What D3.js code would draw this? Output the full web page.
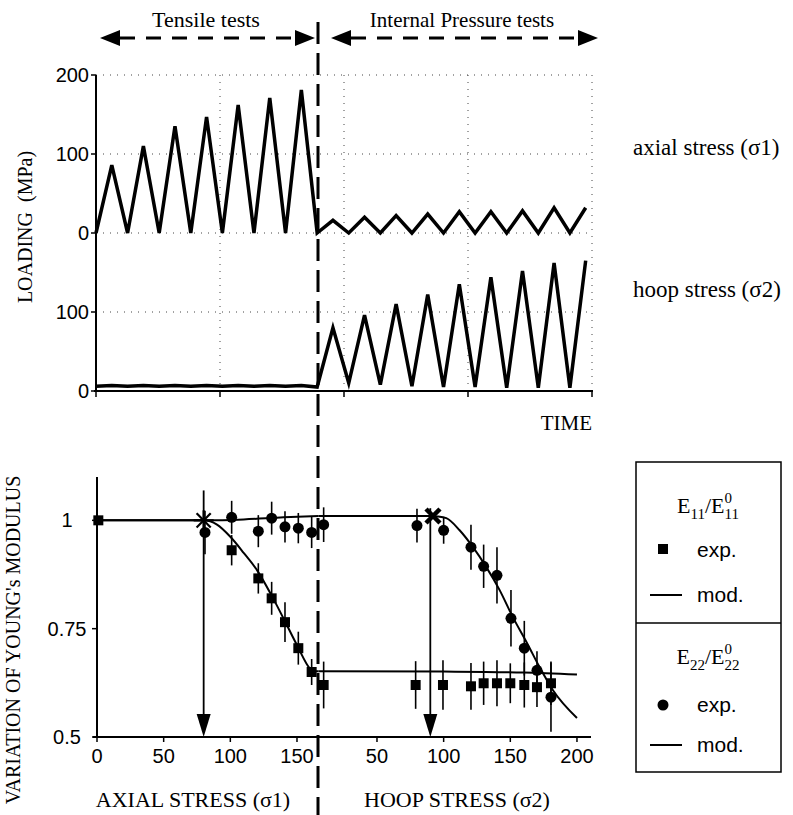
<!DOCTYPE html>
<html><head><meta charset="utf-8">
<script src="https://cdn.jsdelivr.net/npm/d3@7"></script>
<style>body{margin:0;background:#fff} svg{display:block}</style>
</head><body>
<svg id="c" width="793" height="815"></svg>
<script>
// ---------------- DATA ----------------
// Top chart: loading history (time in half-cycle units)
const cycleTime = [0,1,2,3,4,5,6,7,8,9,10,11,12,13,14,15,16,17,18,19,20,21,22,23,24,25,26,27,28,29,30,31];
const axialLoad = [0,86,0,110,0,135,0,147,0,162,0,171,0,181,0,16,0,20,0,22,0,24,0,27,0,27,0,28,0,32,0,32];
const hoopLoad  = [6,7,6,7,6,7,6,7,6,7,6,7,6,7,5,80,10,96,8,110,6,122,5,135,5,144,4,152,4,162,4,165];
const timeDomain = [0, 31.4];
const timeTicks = [0, 7.85, 15.7, 23.55, 31.4];
const loadTickPos = [0, 100, 200, 300, 400];
const loadTickLabels = ["0", "100", "0", "100", "200"];

// Bottom chart: [stress, E/E0, error]
const e11ExpAxial = [[1,1.0,0],[101,0.931,0.035],[121,0.866,0.035],[131,0.82,0.038],[141,0.765,0.046],[151,0.705,0.038],[161,0.65,0.03]];
const e11ExpHoop  = [[10,0.62,0.054],[79,0.62,0.055],[99.5,0.62,0.057],[120.5,0.617,0.054],[130,0.624,0.05],[140,0.624,0.053],[150,0.624,0.046],[160.5,0.62,0.052],[170,0.615,0.046],[180.5,0.624,0.05]];
const e22ExpAxial = [[81,0.972,0.05],[101,1.007,0.038],[121,0.975,0.037],[131,1.005,0.038],[141,0.985,0.036],[151,0.982,0.035],[161,0.972,0.036]];
const e22ExpHoop  = [[10,0.99,0.04],[80,0.988,0.039],[100,0.977,0.031],[120.5,0.938,0.052],[130,0.894,0.05],[140,0.873,0.065],[150.5,0.774,0.065],[160.5,0.705,0.063],[170,0.654,0.044],[180.5,0.592,0.08]];
// model curves: [stress, E/E0]
const e11ModAxial = [[0,1],[80,1],[90,0.99],[100,0.962],[110,0.925],[120,0.885],[130,0.832],[140,0.773],[150,0.712],[160,0.657],[162,0.652],[166,0.652]];
const e11ModHoop  = [[6,0.652],[100,0.651],[160,0.649],[200,0.644]];
const e22ModAxial = [[0,1],[80,1],[110,1.002],[140,1.007],[166,1.01]];
const e22ModHoop  = [[6,1.01],[90,1.01],[95,1.009],[102,1.005],[112,0.977],[122,0.938],[132,0.892],[142,0.839],[152,0.776],[162.5,0.717],[172,0.661],[182,0.608],[200,0.544]];
const axialTicks = [0, 50, 100, 150];
const hoopTicks = [50, 100, 150, 200];
const modTicks = [1, 0.75, 0.5];
const modTickLabels = ["1", "0.75", "0.5"];
const hoopOffset = 160;          // hoop stress 0 sits at axial stress 160 on the shared axis
const onsetAxial = {s: 80, v: 1.0};    // asterisk
const onsetHoop = {s: 92, v: 1.01};    // cross
const arrowAxial = {s: 80, from: 1.069, to: 0.5};
const arrowHoop  = {s: 90, from: 1.028, to: 0.5};

// ---------------- DRAW ----------------
const SERIF = "'Liberation Serif','Times New Roman',serif";
const SANS = "'Liberation Sans',Arial,sans-serif";
const svg = d3.select("#c");

// header
svg.append("text").attr("x",206).attr("y",27).attr("text-anchor","middle")
  .attr("font-family",SERIF).attr("font-size",22).text("Tensile tests");
svg.append("text").attr("x",462).attr("y",27).attr("text-anchor","middle")
  .attr("font-family",SERIF).attr("font-size",21).text("Internal Pressure tests");
function dblArrow(x1, x2, y) {
  const hl = 20, hw = 8;
  svg.append("line").attr("x1",x1+hl).attr("x2",x2-hl).attr("y1",y).attr("y2",y)
    .attr("stroke","#000").attr("stroke-width",3).attr("stroke-dasharray","15,11");
  svg.append("path").attr("d",`M${x1},${y}L${x1+hl},${y-hw}L${x1+hl},${y+hw}Z`).attr("fill","#000");
  svg.append("path").attr("d",`M${x2},${y}L${x2-hl},${y-hw}L${x2-hl},${y+hw}Z`).attr("fill","#000");
}
dblArrow(100, 315, 38);
dblArrow(331, 598, 38);

// ---- top chart
const xT = d3.scaleLinear().domain(timeDomain).range([96, 592]);
const yT = d3.scaleLinear().domain([0, 400]).range([391, 75]);
const topG = svg.append("g");
topG.selectAll(".hg").data(loadTickPos.filter(d => d > 0)).join("line")
  .attr("x1",96).attr("x2",592).attr("y1",d=>yT(d)).attr("y2",d=>yT(d))
  .attr("stroke","#444").attr("stroke-width",1).attr("stroke-dasharray","1,6");
topG.selectAll(".vg").data(timeTicks.filter(d => d > 0)).join("line")
  .attr("x1",d=>xT(d)).attr("x2",d=>xT(d)).attr("y1",75).attr("y2",391)
  .attr("stroke","#444").attr("stroke-width",1).attr("stroke-dasharray","1,6");
topG.append("line").attr("x1",96).attr("x2",96).attr("y1",75).attr("y2",392).attr("stroke","#000").attr("stroke-width",2);
topG.append("line").attr("x1",94).attr("x2",593).attr("y1",391).attr("y2",391).attr("stroke","#000").attr("stroke-width",2);
topG.selectAll(".yt").data(loadTickPos).join("line")
  .attr("x1",91).attr("x2",96).attr("y1",d=>yT(d)).attr("y2",d=>yT(d)).attr("stroke","#000").attr("stroke-width",1.5);
topG.selectAll(".xt").data(timeTicks).join("line")
  .attr("x1",d=>xT(d)).attr("x2",d=>xT(d)).attr("y1",391).attr("y2",397).attr("stroke","#000").attr("stroke-width",1.5);
topG.selectAll(".yl").data(loadTickPos).join("text")
  .attr("x",89).attr("y",d=>yT(d)+7).attr("text-anchor","end")
  .attr("font-family",SANS).attr("font-size",20).text((d,i)=>loadTickLabels[i]);
topG.append("text").attr("transform","translate(32,227) rotate(-90)").attr("text-anchor","middle")
  .attr("font-family",SERIF).attr("font-size",20).attr("xml:space","preserve").text("LOADING  (MPa)");
topG.append("text").attr("x",592).attr("y",430).attr("text-anchor","end")
  .attr("font-family",SERIF).attr("font-size",21).text("TIME");
topG.append("text").attr("x",633).attr("y",155)
  .attr("font-family",SERIF).attr("font-size",23).text("axial stress (σ1)");
topG.append("text").attr("x",633).attr("y",297)
  .attr("font-family",SERIF).attr("font-size",23).text("hoop stress (σ2)");
const axialLine = d3.line().x((d,i)=>xT(cycleTime[i])).y(d=>yT(200+d));
const hoopLine = d3.line().x((d,i)=>xT(cycleTime[i])).y(d=>yT(d));
topG.append("path").attr("d",axialLine(axialLoad)).attr("fill","none").attr("stroke","#000").attr("stroke-width",3.5);
topG.append("path").attr("d",hoopLine(hoopLoad)).attr("fill","none").attr("stroke","#000").attr("stroke-width",3.5);

// ---- bottom chart
const xB = d3.scaleLinear().domain([0, 370]).range([97, 590.3]);
const yB = d3.scaleLinear().domain([0.5, 1.1]).range([737, 477]);
const bot = svg.append("g");
bot.append("line").attr("x1",97).attr("x2",97).attr("y1",477).attr("y2",738).attr("stroke","#000").attr("stroke-width",2);
bot.append("line").attr("x1",93).attr("x2",591).attr("y1",737).attr("y2",737).attr("stroke","#000").attr("stroke-width",2);
bot.selectAll(".yt").data(modTicks).join("line")
  .attr("x1",92).attr("x2",97).attr("y1",d=>yB(d)).attr("y2",d=>yB(d)).attr("stroke","#000").attr("stroke-width",1.5);
bot.selectAll(".yl").data(modTicks).join("text")
  .attr("x",67).attr("y",d=>yB(d)+7).attr("text-anchor","middle")
  .attr("font-family",SANS).attr("font-size",20).text((d,i)=>modTickLabels[i]);
const xTickPos = axialTicks.concat(hoopTicks.map(h => h + hoopOffset));
const xTickLab = axialTicks.concat(hoopTicks);
bot.selectAll(".xt").data(xTickPos).join("line")
  .attr("x1",d=>xB(d)).attr("x2",d=>xB(d)).attr("y1",737).attr("y2",742).attr("stroke","#000").attr("stroke-width",1.5);
bot.selectAll(".xl").data(xTickPos).join("text")
  .attr("x",d=>xB(d)).attr("y",763).attr("text-anchor","middle")
  .attr("font-family",SANS).attr("font-size",20).text((d,i)=>xTickLab[i]);
bot.append("text").attr("x",193).attr("y",807).attr("text-anchor","middle")
  .attr("font-family",SERIF).attr("font-size",22).text("AXIAL STRESS (σ1)");
bot.append("text").attr("x",457).attr("y",807).attr("text-anchor","middle")
  .attr("font-family",SERIF).attr("font-size",22).text("HOOP STRESS (σ2)");
bot.append("text").attr("transform","translate(20,640) rotate(-90)").attr("text-anchor","middle")
  .attr("font-family",SERIF).attr("font-size",20).text("VARIATION OF YOUNG's MODULUS");

const toP = (arr, hoop) => arr.map(d => [hoop ? d[0] + hoopOffset : d[0], d[1], d[2]]);
const e11Exp = toP(e11ExpAxial,false).concat(toP(e11ExpHoop,true));
const e22Exp = toP(e22ExpAxial,false).concat(toP(e22ExpHoop,true));
const mline = d3.line().x(d=>xB(d[0])).y(d=>yB(d[1])).curve(d3.curveMonotoneX);
[toP(e11ModAxial,false), toP(e11ModHoop,true), toP(e22ModAxial,false), toP(e22ModHoop,true)].forEach(a => {
  bot.append("path").attr("d", mline(a)).attr("fill","none").attr("stroke","#000").attr("stroke-width",2);
});
bot.selectAll(".eb").data(e11Exp.concat(e22Exp).filter(d=>d[2]>0)).join("line")
  .attr("x1",d=>xB(d[0])).attr("x2",d=>xB(d[0])).attr("y1",d=>yB(d[1]+d[2])).attr("y2",d=>yB(d[1]-d[2]))
  .attr("stroke","#000").attr("stroke-width",1.6);
bot.selectAll(".sq").data(e11Exp).join("rect")
  .attr("x",d=>xB(d[0])-5).attr("y",d=>yB(d[1])-5).attr("width",10).attr("height",10).attr("fill","#000");
bot.selectAll(".ci").data(e22Exp).join("circle")
  .attr("cx",d=>xB(d[0])).attr("cy",d=>yB(d[1])).attr("r",5.5).attr("fill","#000");
function downArrow(p, from, to) {
  const x = xB(p), y1 = yB(from), y2 = yB(to);
  bot.append("line").attr("x1",x).attr("x2",x).attr("y1",y1).attr("y2",y2-20).attr("stroke","#000").attr("stroke-width",1.8);
  bot.append("path").attr("d",`M${x},${y2}L${x-7},${y2-23}L${x+7},${y2-23}Z`).attr("fill","#000");
}
downArrow(arrowAxial.s, arrowAxial.from, arrowAxial.to);
downArrow(arrowHoop.s + hoopOffset, arrowHoop.from, arrowHoop.to);
{
  const cx = xB(onsetAxial.s), cy = yB(onsetAxial.v), r = 10;
  for (let k = 0; k < 4; k++) {
    const a = k * Math.PI / 4;
    bot.append("line").attr("x1",cx - r*Math.cos(a)).attr("y1",cy - r*Math.sin(a))
      .attr("x2",cx + r*Math.cos(a)).attr("y2",cy + r*Math.sin(a)).attr("stroke","#000").attr("stroke-width",2.2);
  }
}
{
  const cx = xB(onsetHoop.s + hoopOffset), cy = yB(onsetHoop.v), r = 7;
  bot.append("path").attr("d",`M${cx-r},${cy-r}L${cx+r},${cy+r}M${cx-r},${cy+r}L${cx+r},${cy-r}`)
    .attr("stroke","#000").attr("stroke-width",4.5);
}

svg.append("line").attr("x1",318).attr("x2",318).attr("y1",22).attr("y2",815)
  .attr("stroke","#000").attr("stroke-width",3).attr("stroke-dasharray","22,9");

// ---- legend
const lg = svg.append("g");
lg.append("rect").attr("x",636).attr("y",462).attr("width",145).attr("height",310)
  .attr("fill","none").attr("stroke","#000").attr("stroke-width",1.5);
lg.append("line").attr("x1",636).attr("x2",781).attr("y1",623).attr("y2",623).attr("stroke","#000").attr("stroke-width",1.5);
function ratioLabel(cx, y, sub) {
  const t = lg.append("text").attr("font-family",SERIF).attr("font-size",22).attr("y",y);
  t.append("tspan").text("E");
  t.append("tspan").attr("font-size",15).attr("dy",6).text(sub);
  t.append("tspan").attr("dy",-6).text("/");
  t.append("tspan").text("E");
  const xs = t.node().getSubStringLength(0, 2 + sub.length + 1);
  t.append("tspan").attr("font-size",15).attr("dy",-10).text("0");
  t.append("tspan").attr("font-size",15).attr("x",xs).attr("dy",16).text(sub);
  const w = t.node().getBBox().width;
  t.attr("transform",`translate(${cx - w/2},0)`);
}
ratioLabel(708, 513, "11");
ratioLabel(708, 664, "22");
lg.append("rect").attr("x",658).attr("y",544).attr("width",10).attr("height",10).attr("fill","#000");
lg.append("text").attr("x",697).attr("y",557).attr("font-family",SANS).attr("font-size",21).text("exp.");
lg.append("line").attr("x1",650).attr("x2",682).attr("y1",595).attr("y2",595).attr("stroke","#000").attr("stroke-width",2);
lg.append("text").attr("x",697).attr("y",602).attr("font-family",SANS).attr("font-size",21).text("mod.");
lg.append("circle").attr("cx",663).attr("cy",705).attr("r",5.5).attr("fill","#000");
lg.append("text").attr("x",697).attr("y",712).attr("font-family",SANS).attr("font-size",21).text("exp.");
lg.append("line").attr("x1",650).attr("x2",682).attr("y1",745).attr("y2",745).attr("stroke","#000").attr("stroke-width",2);
lg.append("text").attr("x",697).attr("y",752).attr("font-family",SANS).attr("font-size",21).text("mod.");
</script>
</body></html>
